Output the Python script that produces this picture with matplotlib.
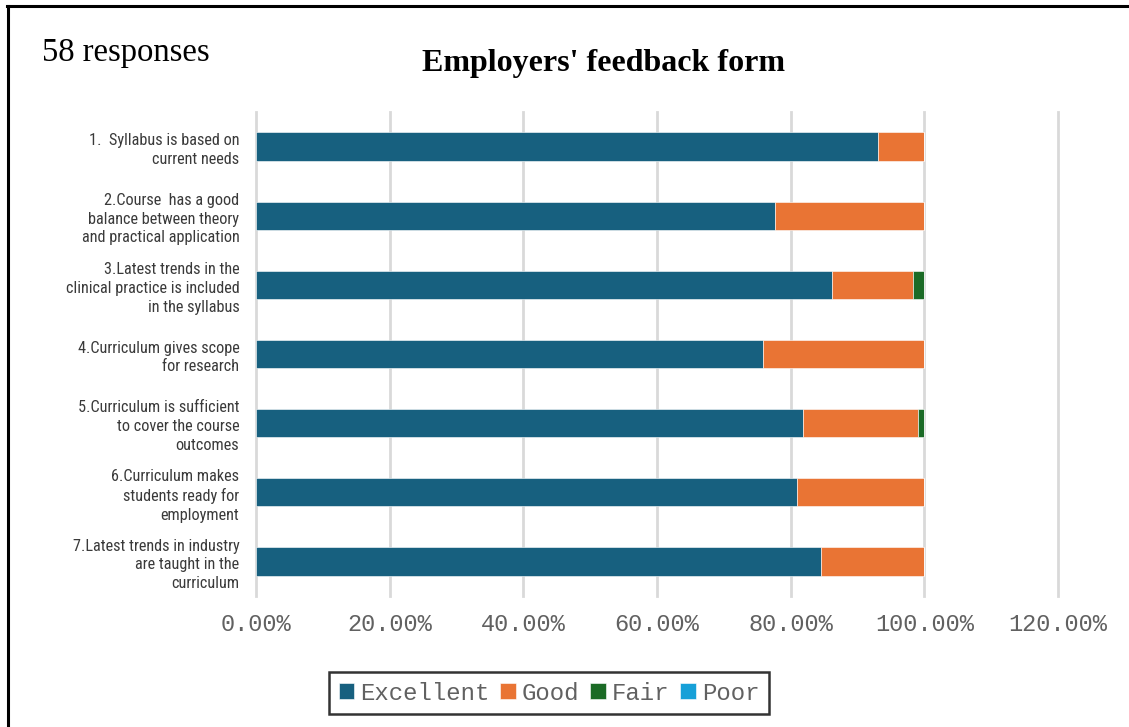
import matplotlib.pyplot as plt
from matplotlib.lines import Line2D
import numpy as np

# survey statements, top to bottom
statements = [
    "1.  Syllabus is based on\ncurrent needs",
    "2.Course  has a good\nbalance between theory\nand practical application",
    "3.Latest trends in the\nclinical practice is included\nin the syllabus",
    "4.Curriculum gives scope\nfor research",
    "5.Curriculum is sufficient\nto cover the course\noutcomes",
    "6.Curriculum makes\nstudents ready for\nemployment",
    "7.Latest trends in industry\nare taught in the\ncurriculum",
]

# percentages of 58 responses
excellent = [93.1, 77.6, 86.2, 75.9, 81.8, 81.0, 84.5]
good = [6.9, 22.4, 12.1, 24.1, 17.3, 19.0, 15.5]
fair = [0.0, 0.0, 1.7, 0.0, 0.9, 0.0, 0.0]
poor = [0.0, 0.0, 0.0, 0.0, 0.0, 0.0, 0.0]

series_names = ["Excellent", "Good", "Fair", "Poor"]
series_colors = ["#17607f", "#e97434", "#1b6b26", "#16a0d8"]

x_ticks = [0, 20, 40, 60, 80, 100, 120]

fig = plt.figure(figsize=(11.29, 7.27), dpi=100)
ax = fig.add_axes([256 / 1129, 1 - 596 / 727, 802 / 1129, 484 / 727])

y = np.arange(len(statements))
left = np.zeros(len(statements))
for name, vals, col in zip(series_names, [excellent, good, fair, poor], series_colors):
    vals = np.array(vals)
    ax.barh(y, vals, left=left, height=0.41, color=col, label=name,
            edgecolor="#ffffff", linewidth=0.4, zorder=3)
    left += vals

ax.set_ylim(len(statements) - 0.5, -0.5)
ax.set_xlim(0, 120)
ax.set_xticks(x_ticks)
ax.set_xticklabels(["{:.2f}%".format(t) for t in x_ticks],
                   family=["Liberation Mono", "DejaVu Sans Mono"],
                   fontsize=17, color="#616161")
ax.set_yticks(y)
ax.set_yticklabels(statements,
                   family=["Roboto Condensed", "Liberation Sans Narrow", "Roboto", "DejaVu Sans"],
                   fontsize=11.7, color="#3a3a3a", linespacing=1.32)
ax.tick_params(axis="both", length=0)
ax.tick_params(axis="y", pad=12)
ax.tick_params(axis="x", pad=12)

ax.grid(axis="x", color="#d9d9d9", linewidth=2, zorder=0)
for gl in ax.xaxis.get_gridlines():
    gl.set_clip_on(False)
for s in ax.spines.values():
    s.set_visible(False)

fig.text(603 / 1129, 1 - 64 / 727, "Employers' feedback form",
         family=["Liberation Serif", "DejaVu Serif"], fontsize=23,
         fontweight="bold", ha="center", va="center")
fig.text(42 / 1129, 1 - 53 / 727, "58 responses",
         family=["Liberation Serif", "DejaVu Serif"], fontsize=23.5,
         ha="left", va="center")

leg = fig.legend(loc="center", bbox_to_anchor=(549 / 1129, 1 - 693 / 727), ncol=4,
                 frameon=True, fancybox=False, handlelength=0.65, handleheight=0.65,
                 handletextpad=0.25, columnspacing=0.45, borderpad=0.4,
                 prop={"family": ["Liberation Mono", "DejaVu Sans Mono"], "size": 17.3})
leg.get_frame().set_edgecolor("black")
leg.get_frame().set_linewidth(1.8)
for t in leg.get_texts():
    t.set_color("#616161")

# page frame on top and left
fig.add_artist(Line2D([7 / 1129, 1], [1 - 5.5 / 727, 1 - 5.5 / 727],
                      transform=fig.transFigure, color="black", linewidth=2.2))
fig.add_artist(Line2D([7.5 / 1129, 7.5 / 1129], [0, 1 - 5.5 / 727],
                      transform=fig.transFigure, color="black", linewidth=2.2))

fig.savefig("out.png", dpi=100)
